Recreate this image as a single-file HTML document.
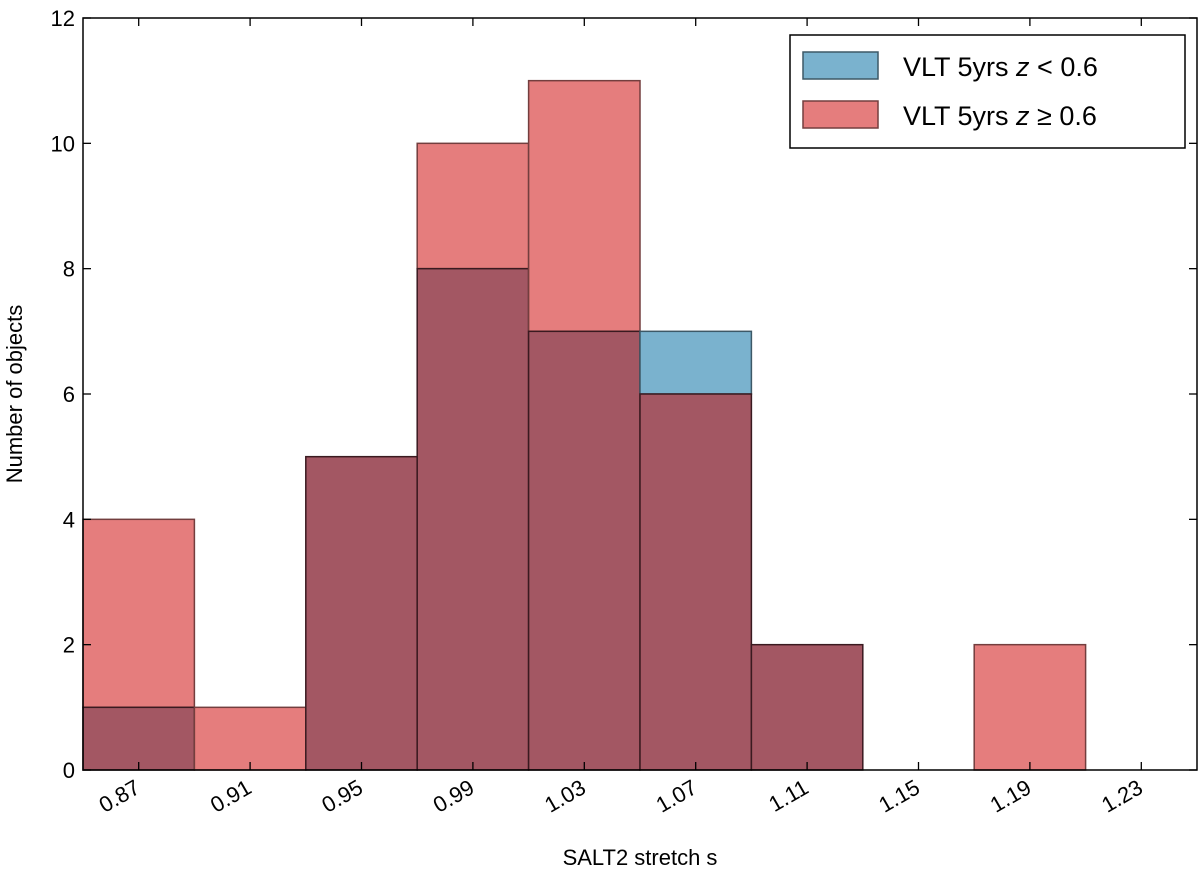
<!DOCTYPE html>
<html><head><meta charset="utf-8"><style>
body{margin:0;background:#fff;}
svg text{font-family:"Liberation Sans","DejaVu Sans",sans-serif;fill:#000;}
</style></head><body>
<svg id="chart" width="1200" height="872" xmlns="http://www.w3.org/2000/svg">
<g id="bars"></g>
<g id="axes"></g>
<text x="640" y="865" font-size="22" text-anchor="middle">SALT2 stretch s</text>
<text transform="translate(22,394) rotate(-90)" font-size="22" text-anchor="middle">Number of objects</text>
<g>
<rect x="790" y="35" width="395" height="113" fill="#fff" stroke="#000" stroke-width="1.5"/>
<rect x="803" y="52" width="75" height="27" fill="#7ab2ce" stroke="#3d5967" stroke-width="1.5"/>
<text x="903" y="76" font-size="27">VLT 5yrs <tspan font-style="italic">z</tspan> &lt; 0.6</text>
<rect x="803" y="101" width="75" height="27" fill="#e57d7d" stroke="#733e3e" stroke-width="1.5"/>
<text x="903" y="125" font-size="27">VLT 5yrs <tspan font-style="italic">z</tspan> ≥ 0.6</text>
</g>
</svg>
<script>
const binStarts=[0.85,0.89,0.93,0.97,1.01,1.05,1.09,1.13,1.17,1.21];
const lowZ=[1,0,5,8,7,7,2,0,0,0];
const highZ=[4,1,5,10,11,6,2,0,2,0];
const xTicks=[0.87,0.91,0.95,0.99,1.03,1.07,1.11,1.15,1.19,1.23];
const yTicks=[0,2,4,6,8,10,12];
const binW=0.04;
const L=83,R=1197,T=18,B=770;
const xs=v=>L+(v-0.85)/(0.4)*(R-L);
const ys=v=>B-v/12*(B-T);
const NS="http://www.w3.org/2000/svg";
const bars=document.getElementById('bars');
function rect(x0,x1,y0,y1,fill,stroke,name){
 const r=document.createElementNS(NS,'rect');
 r.setAttribute('x',xs(x0));r.setAttribute('width',xs(x1)-xs(x0));
 r.setAttribute('y',ys(y1));r.setAttribute('height',ys(y0)-ys(y1));
 r.setAttribute('fill',fill);r.setAttribute('stroke',stroke);r.setAttribute('stroke-width','1.5');
 
 
 bars.appendChild(r);
}
binStarts.forEach((s,i)=>{
 const a=lowZ[i],b=highZ[i],m=Math.min(a,b);
 if(a>m) rect(s,s+binW,m,a,'#7ab2ce','#3d5967','bar-low-z-'+i);
 if(b>m) rect(s,s+binW,m,b,'#e57d7d','#733e3e','bar-high-z-'+i);
 if(m>0) rect(s,s+binW,0,m,'#a35763','#3a1a20','bar-overlap-'+i);
});
const ax=document.getElementById('axes');
function line(x1,y1,x2,y2,name){const l=document.createElementNS(NS,'line');
 l.setAttribute('x1',x1);l.setAttribute('y1',y1);l.setAttribute('x2',x2);l.setAttribute('y2',y2);
 l.setAttribute('stroke','#000');l.setAttribute('stroke-width','1.3');
 
 
 ax.appendChild(l);}
const fr=document.createElementNS(NS,'rect');
fr.setAttribute('x',L);fr.setAttribute('y',T);fr.setAttribute('width',R-L);fr.setAttribute('height',B-T);
fr.setAttribute('fill','none');fr.setAttribute('stroke','#000');fr.setAttribute('stroke-width','1.5');


ax.appendChild(fr);
xTicks.forEach(v=>{const x=xs(v);line(x,B,x,B-8,'x-tick');line(x,T,x,T+8,'x-tick-top');
 const t=document.createElementNS(NS,'text');
 t.setAttribute('transform',`translate(${x-5},${B+8}) rotate(-30)`);
 t.setAttribute('text-anchor','end');t.setAttribute('font-size','22');t.setAttribute('dominant-baseline','hanging');
 t.textContent=v.toFixed(2);
 
 
 ax.appendChild(t);});
yTicks.forEach(v=>{const y=ys(v);line(L,y,L+8,y,'y-tick');line(R,y,R-8,y,'y-tick-right');
 const t=document.createElementNS(NS,'text');
 t.setAttribute('x',L-8);t.setAttribute('y',y+8);t.setAttribute('text-anchor','end');t.setAttribute('font-size','22');
 t.textContent=v;
 
 
 ax.appendChild(t);});
</script>
</body></html>
